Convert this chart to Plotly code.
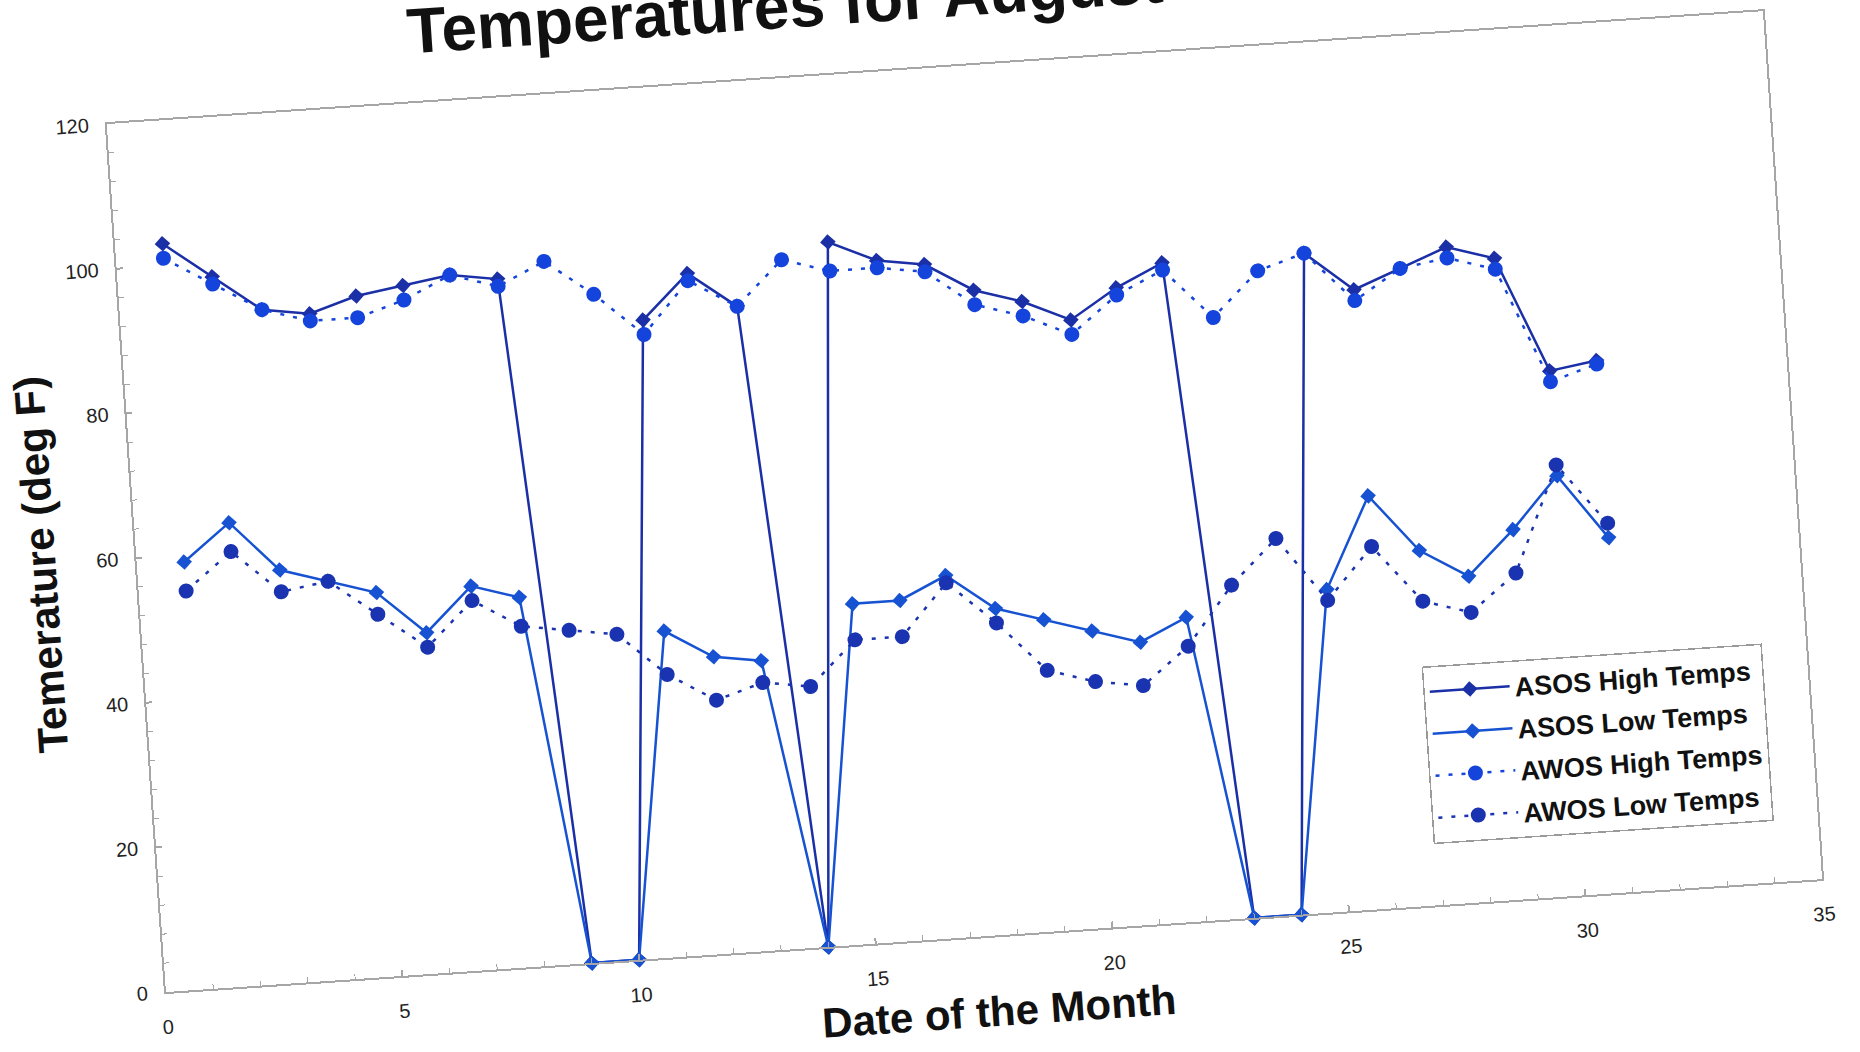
import plotly.graph_objects as go

# ---- data ----
days = list(range(1, 32))
asos_high = [103, 98, 93, 92, 94, 95, 96, 95, 0, 0, 88, 94, 89, 0, 97, 94, 93, 89, 87, 84,
             88, 91, 0, 0, 91, 85.5, 88, 90.5, 88.5, 72.5, 73.5]
asos_low = [59, 64, 57, 55, 53, 47, 53, 51, 0, 0, 45, 41, 40, 0, 47, 47, 50, 45, 43, 41,
            39, 42, 0, 0, 44.5, 57, 49, 45, 51, 58, 49]
awos_high = [101, 97, 93, 91, 91, 93, 96, 94, 97, 92, 86, 93, 89, 95, 93, 93, 92, 87, 85, 82,
             87, 90, 83, 89, 91, 84, 88, 89, 87, 71, 73]
awos_low = [55, 60, 54, 55, 50, 45, 51, 47, 46, 45, 39, 35, 37, 36, 42, 42, 49, 43, 36, 34,
            33, 38, 46, 52, 43, 50, 42, 40, 45, 59.5, 51]

series_names = ["ASOS High Temps", "ASOS Low Temps", "AWOS High Temps", "AWOS Low Temps"]
title_text = "Temperatures for August"
x_title = "Date of the Month"
y_title = "Temerature (deg F)"
x_ticks = [0, 5, 10, 15, 20, 25, 30, 35]
y_ticks = [0, 20, 40, 60, 80, 100, 120]

FONT = "Liberation Sans, Arial, Helvetica, sans-serif"
AX = "#a6a6a6"

fig = go.Figure()
fig.add_trace(go.Scatter(
    x=days, y=asos_high, name=series_names[0], legendgroup="g1", mode="lines+markers", cliponaxis=False,
    line=dict(color="#1b2fa6", width=2.5),
    marker=dict(symbol="diamond", size=12, color="#1b2fa6")))
fig.add_trace(go.Scatter(
    x=days, y=asos_low, name=series_names[1], legendgroup="g2", mode="lines+markers", cliponaxis=False,
    line=dict(color="#1652d2", width=2.5),
    marker=dict(symbol="diamond", size=12, color="#1652d2")))
fig.add_trace(go.Scatter(
    x=days, y=awos_high, name=series_names[2], legendgroup="g3", mode="lines+markers", cliponaxis=False,
    line=dict(color="#1444dc", width=2.5, dash="4px,9px"),
    marker=dict(symbol="circle", size=15, color="#1444dc")))
fig.add_trace(go.Scatter(
    x=days, y=awos_low, name=series_names[3], legendgroup="g4", mode="lines+markers", cliponaxis=False,
    line=dict(color="#1a33b0", width=2.5, dash="4px,9px"),
    marker=dict(symbol="circle", size=15, color="#1a33b0")))

fig.update_layout(
    width=1860, height=1152,
    margin=dict(l=136, r=64, t=169, b=113),
    paper_bgcolor="white", plot_bgcolor="white",
    font=dict(family=FONT, color="#222"),
    showlegend=True,
    title=dict(text=title_text, xref="container", yref="container",
               x=0.2376, xanchor="left", y=0.916, yanchor="middle",
               font=dict(family=FONT, size=64, color="#111", weight="bold")),
    legend=dict(x=0.768, y=0.275, xanchor="left", yanchor="top",
                bgcolor="white", bordercolor="#9a9a9a", borderwidth=1.5,
                font=dict(family=FONT, size=27, color="#111", weight="bold"),
                itemwidth=80, tracegroupgap=4),
)
fig.update_xaxes(
    range=[0, 35], tickvals=x_ticks, ticks="inside", ticklen=6, tickcolor=AX, tickwidth=1.5,
    showline=True, linecolor=AX, linewidth=2, mirror=True, showgrid=False, zeroline=False,
    minor=dict(dtick=1, ticks="inside", ticklen=5, tickcolor=AX, tickwidth=1.2, showgrid=False),
    tickfont=dict(family=FONT, size=20, color="#222"), ticklabelstandoff=16,
    title=dict(text=x_title, standoff=16, font=dict(family=FONT, size=42, color="#111", weight="bold")),
)
fig.update_yaxes(
    range=[0, 120], tickvals=y_ticks, ticks="inside", ticklen=6, tickcolor=AX, tickwidth=1.5,
    showline=True, linecolor=AX, linewidth=2, mirror=True, showgrid=False, zeroline=False,
    minor=dict(dtick=4, ticks="inside", ticklen=5, tickcolor=AX, tickwidth=1.2, showgrid=False),
    tickfont=dict(family=FONT, size=20, color="#222"), ticklabelstandoff=12,
    title=dict(text=y_title, standoff=16, font=dict(family=FONT, size=42, color="#111", weight="bold")),
)

# the reference is a slightly tilted scan of the printed chart
post = """
var gd = document.getElementById('{plot_id}');
document.documentElement.style.overflow = 'hidden';
document.body.style.margin = '0';
document.body.style.overflow = 'hidden';
gd.style.transformOrigin = '930px 626px';
gd.style.transform = 'translateY(-100px) rotate(-3.9deg)';
"""
fig.write_html("out.html", post_script=post, config={"displayModeBar": False})
